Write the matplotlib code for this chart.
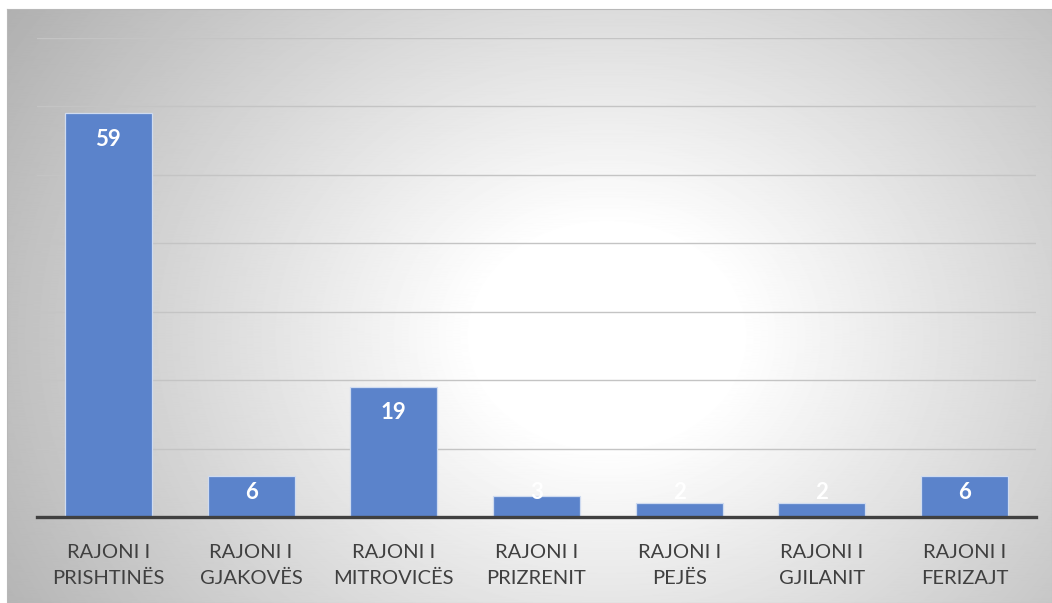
import numpy as np
import matplotlib
matplotlib.use("Agg")
import matplotlib.pyplot as plt

categories = ["RAJONI I\nPRISHTINËS", "RAJONI I\nGJAKOVËS", "RAJONI I\nMITROVICËS",
              "RAJONI I\nPRIZRENIT", "RAJONI I\nPEJËS", "RAJONI I\nGJILANIT",
              "RAJONI I\nFERIZAJT"]
values = [59, 6, 19, 3, 2, 2, 6]

plt.rcParams['font.family'] = ['Lato', 'DejaVu Sans']

fig = plt.figure(figsize=(10.52, 6.03), dpi=100, facecolor='white')

# chart area background: radial gradient, white centre, grey edges
bg = fig.add_axes([7 / 1052, 0, 1 - 7 / 1052, 1 - 9 / 603])
yy, xx = np.mgrid[0:600, 0:1045]
cx, cy = 600, 330
r = np.sqrt(((xx - cx) / 600) ** 2 + ((yy - cy) / 500) ** 2)
shade = 1.0 - 0.27 * np.clip(r - 0.22, 0, 1.0) / 0.85
bg.imshow(shade, cmap='gray', vmin=0, vmax=1, aspect='auto', interpolation='bilinear')
bg.set_xticks([])
bg.set_yticks([])
for s in bg.spines.values():
    s.set_color('#b8b8b8')
    s.set_linewidth(0.8)

ax = fig.add_axes([37 / 1052, 86 / 603, 999 / 1052, (517 - 38) / 603])
ax.patch.set_alpha(0)

x = np.arange(len(categories))
ax.bar(x, values, width=0.61, color='#5b83cb', edgecolor='#cfdbf0', linewidth=0.9, zorder=3)

ax.set_xlim(-0.5, len(categories) - 0.5)
ax.set_ylim(0, 70)
ax.set_yticks(np.arange(10, 71, 10))
ax.yaxis.grid(True, color='#c4c4c4', linewidth=1.0, zorder=0)
ax.tick_params(axis='y', left=False, labelleft=False)
ax.tick_params(axis='x', bottom=False, pad=16)
ax.set_xticks(x)
ax.set_xticklabels(categories, fontsize=14.5, color='#404040', linespacing=1.62)

for s in ['top', 'right', 'left']:
    ax.spines[s].set_visible(False)
ax.spines['bottom'].set_color('#404040')
ax.spines['bottom'].set_linewidth(2.4)
ax.spines['bottom'].set_zorder(4)

for xi, v in zip(x, values):
    ax.text(xi, max(v - 3.8, 3.6), str(v), ha='center', va='center',
            fontsize=16, fontweight='bold', color='white', zorder=5)

fig.savefig('out.png', dpi=100)
